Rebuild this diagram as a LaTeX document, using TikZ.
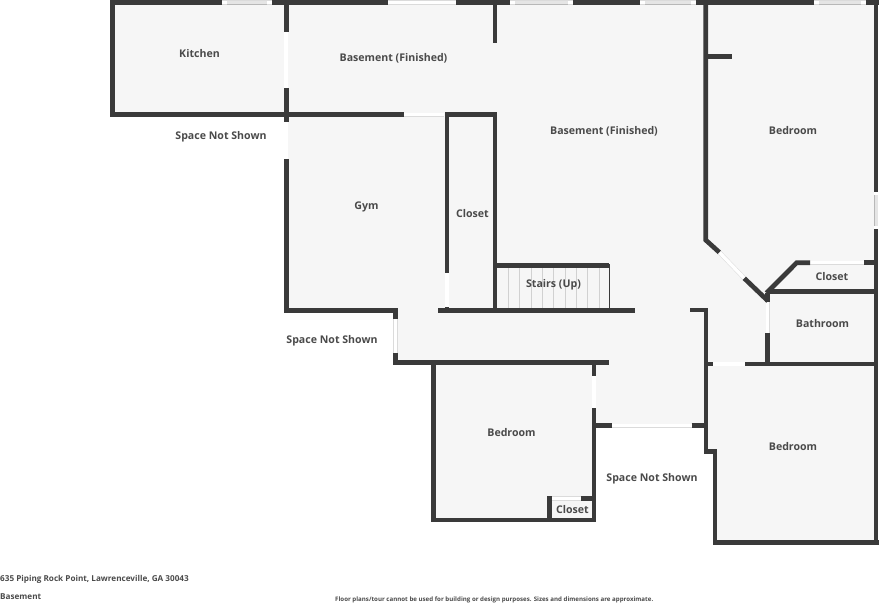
\documentclass[tikz,border=0pt]{standalone}
\usepackage{fontspec}
\setmainfont{Open Sans}
\definecolor{wall}{RGB}{58,58,58}
\definecolor{floorgrey}{RGB}{246,246,246}
\definecolor{lettering}{RGB}{74,74,74}
\tikzset{
  wallline/.style={draw=wall,line width=4.7pt,line join=miter},
  opening/.style={draw=black!14,double=white,double distance=3.4pt,line width=.5pt},
  pane/.style={draw=black!28,double=black!10,double distance=3pt,line width=.5pt},
  tread/.style={draw=black!18,line width=.8pt},
  roomlabel/.style={text=lettering,font=\fontsize{10.6}{12}\selectfont\bfseries,inner sep=0pt,yshift=-.8pt},
  footlabel/.style={text=lettering,font=\fontsize{8.15}{9}\selectfont\bfseries,inner sep=0pt,anchor=west},
}

\begin{document}
\begin{tikzpicture}[x=1pt,y=-1pt]
    \useasboundingbox (0,0) rectangle (879,603);

    % floor
    \fill[floorgrey] (112,2.5) -- (876,2.5) -- (876,542.7) -- (715,542.7) -- (715,452) -- (706,452)
        -- (706,425.7) -- (594,425.7) -- (594,520) -- (433,520) -- (433,362.5) -- (395.5,362.5)
        -- (395.5,310.5) -- (286,310.5) -- (286,114.7) -- (112,114.7) -- cycle;

    % openings
    \foreach \xa/\ya/\xb/\yb in {388/2.5/456/2.5, 404/114.7/444/114.7, 286/32/286/88, 286/122/286/159,
        447/272/447/307, 395.5/319/395.5/353, 594/376/594/408, 549/498.3/581/498.3, 611/425.7/692/425.7,
        713/364/745/364, 767.7/302/767.7/333, 810/262.7/864/262.7, 719.3/252.3/744.3/278.3}
        \draw[opening] (\xa,\ya) -- (\xb,\yb);

    % windows
    \foreach \xa/\xb in {222/272, 510/573, 640/696, 814/866}{
        \draw[opening] (\xa,2.5) -- (\xb,2.5);
        \draw[pane] (\xa+5,2.5) -- (\xb-5,2.5);
    }
    \draw[opening] (876,191.7) -- (876,229);
    \draw[pane] (876,195) -- (876,225.5);

    % stairs
    \foreach \x in {508.3,519.6,531,542.3,553.7,565,576.3,587.6,599}
        \draw[tread] (\x,266) -- (\x,310);
    \draw[draw=wall,line width=1.5pt] (609.3,264) -- (609.3,310);

    % walls
    \draw[wallline] (222,2.5) -- (110,2.5) (112.5,0.2) -- (112.5,114.7) -- (404,114.7);
    \draw[wallline] (272,2.5) -- (388,2.5) (456,2.5) -- (510,2.5) (573,2.5) -- (640,2.5)
        (696,2.5) -- (814,2.5) (866,2.5) -- (879,2.5);
    \draw[wallline] (286.3,2.5) -- (286.3,32) (286.3,88) -- (286.3,122);
    \draw[wallline] (495,2.5) -- (495,42.7);
    \draw[wallline] (286.3,159) -- (286.3,310.7) -- (395.5,310.7) -- (395.5,319);
    \draw[wallline] (395.5,353) -- (395.5,362.4);
    \draw[wallline] (393.2,362.4) -- (609.3,362.4);
    \draw[wallline] (447,272.7) -- (447,114.7) -- (495,114.7) -- (495,310.7);
    \draw[wallline] (438,310.7) -- (635,310.7);
    \draw[wallline] (495,265.7) -- (609.3,265.7);
    \draw[wallline] (447,307) -- (447,310.7);
    % lower bedroom
    \draw[wallline] (433.3,362.4) -- (433.3,520) -- (594,520) -- (594,407.7);
    \draw[wallline] (594,362.4) -- (594,376);
    \draw[wallline] (549.3,496) -- (549.3,520);
    \draw[wallline] (549.3,498.3) -- (551,498.3) (581,498.3) -- (594,498.3);
    \draw[wallline] (594,425.7) -- (611.7,425.7) (691.7,425.7) -- (706,425.7);
    % right side
    \draw[wallline] (690,310) -- (706,310) -- (706,451.7) -- (715,451.7) -- (715,542.7) -- (879,542.7);
    \draw[wallline] (706,364) -- (713,364) (745,364) -- (876,364);
    \draw[wallline] (767.7,364) -- (767.7,333);
    \draw[wallline] (767.7,291.7) -- (876,291.7);
    \draw[wallline] (767.7,302) -- (767.7,293);
    \draw[wallline] (810,262.7) -- (796.7,262.7) -- (766.5,293);
    \draw[wallline] (864,262.7) -- (876,262.7);
    \draw[wallline] (705.7,2.5) -- (705.7,240) -- (719.3,252.3);
    \draw[wallline] (744.3,278.3) -- (768,301);
    \draw[wallline] (706,56.7) -- (732,56.7);
    \draw[wallline] (876,2.5) -- (876,191.7) (876,229) -- (876,542.7);

    % room names
    \node[roomlabel] (kitchen) at (199.5,52.5) {Kitchen};
    \node[roomlabel] (basementwest) at (393.5,57.5) {Basement (Finished)};
    \node[roomlabel] (basementeast) at (604,130.5) {Basement (Finished)};
    \node[roomlabel] (bedroomnorth) at (793,129.5) {Bedroom};
    \node[roomlabel] (notshowna) at (221,136) {Space Not Shown};
    \node[roomlabel] (gym) at (366.5,206.5) {Gym};
    \node[roomlabel] (closetlong) at (472.5,212.5) {Closet};
    \node[roomlabel] (stairs) at (553.5,283.5) {Stairs (Up)};
    \node[roomlabel] (closeteast) at (832,276) {Closet};
    \node[roomlabel] (bathroom) at (822.5,322.5) {Bathroom};
    \node[roomlabel] (notshownb) at (332,339.5) {Space Not Shown};
    \node[roomlabel] (bedroomsouth) at (511.5,432) {Bedroom};
    \node[roomlabel] (bedroomeast) at (793,445.5) {Bedroom};
    \node[roomlabel] (closetsmall) at (572.5,509) {Closet};
    \node[roomlabel] (notshownc) at (652,478) {Space Not Shown};

    % footer
    \node[footlabel] (address) at (0,579.5) {635 Piping Rock Point, Lawrenceville, GA 30043};
    \node[footlabel] (level) at (0,597) {Basement};
    \node[footlabel,font=\fontsize{6.15}{7}\selectfont\bfseries] (disclaimer) at (335,600) {Floor plans/tour cannot be used for building or design purposes. Sizes and dimensions are approximate.};
\end{tikzpicture}
\end{document}
